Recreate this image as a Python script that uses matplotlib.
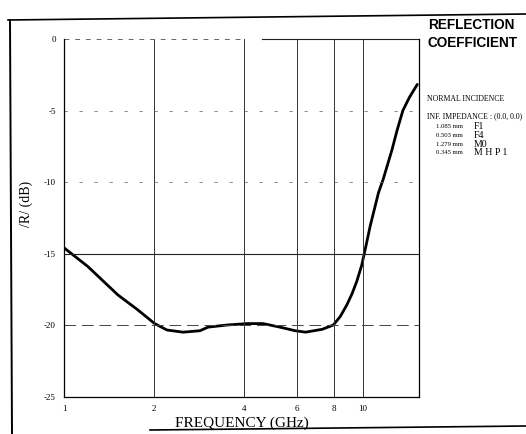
import numpy as np
import matplotlib
matplotlib.use('Agg')
import matplotlib.pyplot as plt
from matplotlib.lines import Line2D

# curve
freq = [1.0, 1.20, 1.515, 1.755, 2.01, 2.21, 2.50, 2.85, 3.03, 3.51, 4.10, 4.63,
        5.28, 5.93, 6.43, 7.31, 7.96, 8.4, 8.83, 9.2, 9.53, 9.91, 10.25, 10.58,
        10.95, 11.27, 11.69, 12.1, 12.5, 13.0, 13.6, 14.3, 15.2]
refl_db = [-14.6, -15.9, -17.9, -18.9, -19.9, -20.35, -20.5, -20.4, -20.15, -20.0,
           -19.9, -19.9, -20.15, -20.4, -20.5, -20.3, -20.0, -19.4, -18.6, -17.8,
           -16.96, -15.8, -14.4, -13.05, -11.8, -10.75, -9.8, -8.75, -7.76, -6.4,
           -5.0, -4.08, -3.17]

x_ticks = [1, 2, 4, 6, 8, 10]
y_ticks = [0, -5, -10, -15, -20, -25]
layers = ['1.085 mm', '0.503 mm', '1.279 mm', '0.345 mm']
materials = ['F1', 'F4', 'M0', 'M H P 1']

serif = ['Liberation Serif', 'DejaVu Serif']
fig = plt.figure(figsize=(5.26, 4.34), dpi=100)
ax = fig.add_axes([0.1217, 0.0864, 0.6749, 0.8236])

ax.plot(freq, refl_db, color='black', lw=2.0, solid_capstyle='round',
        solid_joinstyle='round')
ax.set_xscale('log')
ax.set_xlim(1, 15.4)
ax.set_ylim(-25, 0)

# grid, scanned look
for f in x_ticks[1:]:
    ax.axvline(f, color='#333333', lw=0.7)
ax.axhline(-15, color='#222222', lw=0.8)
ax.axhline(-20, color='#444444', lw=0.7, dashes=(12, 6))
for yv in [-5, -10]:
    ax.axhline(yv, color='#777777', lw=0.6, dashes=(4, 14))

for s in ['left', 'right', 'bottom']:
    ax.spines[s].set_linewidth(0.9)
ax.spines['top'].set_visible(False)
ax.plot([1, 4], [0, 0], color='#666666', lw=0.7, dashes=(5, 6), clip_on=False)
ax.plot([4.6, 15.4], [0, 0], color='#222222', lw=0.8, clip_on=False)

ax.set_xticks(x_ticks)
ax.set_xticklabels([str(t) for t in x_ticks], family=serif, fontsize=6.5)
ax.minorticks_off()
ax.set_yticks(y_ticks)
ax.set_yticklabels([str(t) for t in y_ticks], family=serif, fontsize=6.5)
ax.tick_params(length=0, pad=6)

ax.set_xlabel('FREQUENCY (GHz)', family=serif, fontsize=11, labelpad=3)
fig.text(0.050, 0.53, '/R/ (dB)', rotation=90, family=serif, fontsize=10,
         ha='center', va='center')

# legend block on the right
fig.text(0.813, 0.958, 'REFLECTION\nCOEFFICIENT', family='Liberation Sans',
         fontweight='bold', fontsize=9.8, va='top', ha='left', linespacing=1.3)
fig.text(0.812, 0.772, 'NORMAL INCIDENCE', family=serif, fontsize=5.6, va='center')
fig.text(0.812, 0.733, 'INF. IMPEDANCE : (0.0, 0.0)', family=serif, fontsize=5.6,
         va='center')
for i, (th, mat) in enumerate(zip(layers, materials)):
    yy = 0.7074 - i * 0.0196
    fig.text(0.829, yy, th, family=serif, fontsize=4.8, va='center')
    fig.text(0.901, yy, mat, family=serif, fontsize=7, va='center')

# border of the scanned page
W, H = 526.0, 434.0
fig.add_artist(Line2D([8 / W, 1], [1 - 20 / H, 1 - 14 / H], color='black', lw=1.2))
fig.add_artist(Line2D([10 / W, 12 / W], [1 - 20 / H, 0], color='black', lw=1.4))
fig.add_artist(Line2D([150 / W, 1], [1 - 430 / H, 1 - 426 / H], color='black', lw=1.2))

plt.savefig('out.png', dpi=100)
plt.close()
